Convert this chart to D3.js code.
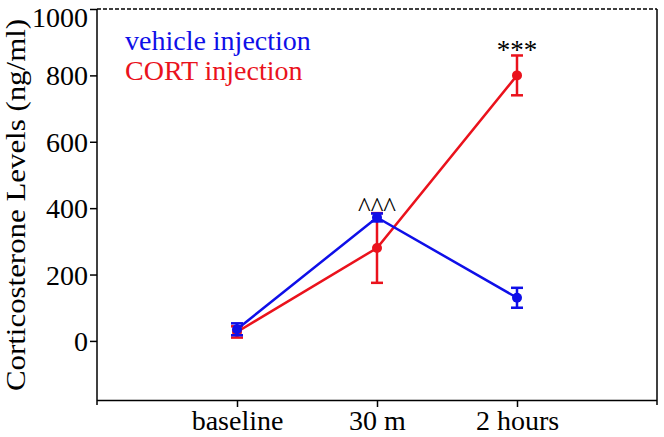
<!DOCTYPE html>
<html><head><meta charset="utf-8">
<script src="https://cdn.jsdelivr.net/npm/d3@7"></script>
<style>body{margin:0;background:#fff}svg{display:block}text{font-family:"Liberation Serif","Times New Roman",serif}</style>
</head><body><svg id="c" width="664" height="437"></svg>
<script>
const categories = ["baseline", "30 m", "2 hours"];
const vehicleMean = [35, 372, 130];
const vehicleErr = [18, 12, 30];
const cortMean = [27, 280, 800];
const cortErr = [17, 105, 60];
const yTicks = [0, 200, 400, 600, 800, 1000];
const seriesNames = ["vehicle injection", "CORT injection"];
const seriesColors = ["#0f0fe8", "#ea121c"];
const annotations = [{cat: 1, text: "^^^"}, {cat: 2, text: "***"}];

const svg = d3.select("#c");
const L = 97, R = 657, T = 9, B = 400;
const x = d3.scaleLinear().domain([0, 4]).range([L, R]);
const y = d3.scaleLinear().domain([-178, 1000]).range([B, T]);

// frame
svg.append("line").attr("x1", L).attr("x2", R).attr("y1", T).attr("y2", T)
  .attr("stroke", "#000").attr("stroke-width", 1.5).attr("stroke-dasharray", "4,2");
svg.append("line").attr("x1", R).attr("x2", R).attr("y1", T).attr("y2", B + 5)
  .attr("stroke", "#000").attr("stroke-width", 1.5);

// y axis
const yAxis = svg.append("g").attr("transform", `translate(${L},0)`)
  .call(d3.axisLeft(y).tickValues(yTicks).tickSize(7).tickPadding(2).tickFormat(d3.format("d")));
yAxis.select(".domain").remove();
svg.append("line").attr("x1", L).attr("x2", L).attr("y1", T).attr("y2", B + 5)
  .attr("stroke", "#000").attr("stroke-width", 1.5);
yAxis.selectAll("line").attr("stroke-width", 1.5);
yAxis.selectAll("text").attr("font-size", 28).attr("font-family", "Liberation Serif").attr("fill", "#000")
  .attr("dy", d => d === 1000 ? "0.62em" : "0.34em");

// x axis
const xAxis = svg.append("g").attr("transform", `translate(0,${B})`)
  .call(d3.axisBottom(x).tickValues([1, 2, 3]).tickSize(7).tickPadding(4).tickFormat(d => categories[d - 1]));
xAxis.select(".domain").attr("d", `M${L},0.5H${R}`).attr("stroke-width", 1.5);
xAxis.selectAll("line").attr("stroke-width", 1.5);
xAxis.selectAll("text").attr("font-size", 28).attr("font-family", "Liberation Serif").attr("fill", "#000").attr("dy", "0.68em");

// y label
svg.append("text").attr("transform", `translate(25,${(T + 393) / 2 + 4}) rotate(-90)`)
  .attr("text-anchor", "middle").attr("font-size", 28).attr("textLength", 372).attr("lengthAdjust", "spacingAndGlyphs")
  .text("Corticosterone Levels (ng/ml)");

// series
const series = [
  {mean: cortMean, err: cortErr, color: seriesColors[1]},
  {mean: vehicleMean, err: vehicleErr, color: seriesColors[0]}
];
const line = d3.line().x((d, i) => x(i + 1)).y(d => y(d));
series.forEach(s => {
  const g = svg.append("g");
  g.append("path").datum(s.mean).attr("d", line).attr("fill", "none").attr("stroke", s.color).attr("stroke-width", 2.5);
  s.mean.forEach((m, i) => {
    const cx = x(i + 1), lo = y(m - s.err[i]), hi = y(m + s.err[i]);
    g.append("line").attr("x1", cx).attr("x2", cx).attr("y1", lo).attr("y2", hi).attr("stroke", s.color).attr("stroke-width", 2.5);
    [lo, hi].forEach(yy => g.append("line").attr("x1", cx - 6).attr("x2", cx + 6).attr("y1", yy).attr("y2", yy).attr("stroke", s.color).attr("stroke-width", 2.5));
    g.append("circle").attr("cx", cx).attr("cy", y(m)).attr("r", 5).attr("fill", s.color);
  });
});

// annotations
svg.append("text").attr("x", x(annotations[0].cat + 1)).attr("y", 216).attr("text-anchor", "middle").attr("font-size", 27).text(annotations[0].text);
svg.append("text").attr("x", x(annotations[1].cat + 1)).attr("y", 59).attr("text-anchor", "middle").attr("font-size", 27).text(annotations[1].text);

// legend
seriesNames.forEach((n, i) => {
  svg.append("text").attr("x", 125).attr("y", 50 + i * 30).attr("font-size", 28).attr("fill", seriesColors[i]).text(n);
});
</script></body></html>
